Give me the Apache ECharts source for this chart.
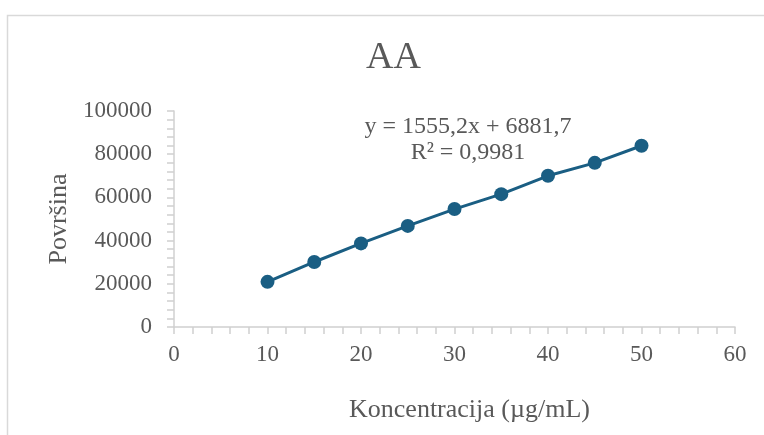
<!DOCTYPE html>
<html>
<head>
<meta charset="utf-8">
<script src="https://cdn.jsdelivr.net/npm/echarts@6/dist/echarts.min.js"></script>
<style>html,body{margin:0;padding:0;background:#fff}#c{width:764px;height:435px}</style>
</head>
<body>
<div id="c"></div>
<script>
var concentrations = [10, 15, 20, 25, 30, 35, 40, 45, 50];
var areas = [20900, 30100, 38700, 46800, 54600, 61500, 70000, 76000, 83900];
var xTicks = [0, 10, 20, 30, 40, 50, 60];
var yTicks = [0, 20000, 40000, 60000, 80000, 100000];
var titleText = 'AA';
var xName = 'Koncentracija (µg/mL)';
var yName = 'Površina';
var equationLines = ['y = 1555,2x + 6881,7', 'R² = 0,9981'];

var FONT = '"Liberation Serif", "Times New Roman", serif';
var TXT = '#595959';
var chart = echarts.init(document.getElementById('c'));
chart.setOption({
  backgroundColor: '#ffffff',
  animation: false,
  title: {
    text: titleText, left: 361, top: 34,
    textStyle: {fontFamily: FONT, fontSize: 38, fontWeight: 'normal', color: TXT}
  },
  grid: {left: 174, right: 29, top: 111, bottom: 108, containLabel: false},
  xAxis: {
    type: 'value', min: xTicks[0], max: xTicks[xTicks.length - 1], interval: 10,
    name: xName, nameLocation: 'middle', nameGap: 70,
    nameTextStyle: {fontFamily: FONT, fontSize: 26, color: TXT, padding: [0, 0, 0, 30]},
    axisLine: {show: true, onZero: false, lineStyle: {color: '#d0d0d0', width: 1.5}},
    axisTick: {show: true, length: 7, lineStyle: {color: '#d0d0d0', width: 1.5}},
    minorTick: {show: true, splitNumber: 5, length: 7, lineStyle: {color: '#d0d0d0', width: 1.5}},
    axisLabel: {fontFamily: FONT, fontSize: 23, color: TXT, margin: 16,
                formatter: function (v) { return String(v); }},
    splitLine: {show: false}
  },
  yAxis: {
    type: 'value', min: yTicks[0], max: yTicks[yTicks.length - 1], interval: 20000,
    name: yName, nameLocation: 'middle', nameGap: 102, nameRotate: 90,
    nameTextStyle: {fontFamily: FONT, fontSize: 26, color: TXT},
    axisLine: {show: true, lineStyle: {color: '#d0d0d0', width: 1.5}},
    axisTick: {show: true, length: 7, lineStyle: {color: '#d0d0d0', width: 1.5}},
    minorTick: {show: true, splitNumber: 5, length: 7, lineStyle: {color: '#d0d0d0', width: 1.5}},
    axisLabel: {fontFamily: FONT, fontSize: 23, color: TXT, margin: 22,
                formatter: function (v) { return String(v); }},
    splitLine: {show: false}
  },
  graphic: [
    {type: 'rect', silent: true, z: -10,
     shape: {x: 7.5, y: 15.5, width: 800, height: 500},
     style: {fill: 'none', stroke: '#d9d9d9', lineWidth: 1.5}},
    {type: 'text', x: 468, y: 114, silent: true,
     style: {text: equationLines.join('\n'), fontFamily: FONT, fontSize: 24, fill: TXT,
              align: 'center', lineHeight: 26}}
  ],
  series: [{
    type: 'line',
    data: concentrations.map(function (c, i) { return [c, areas[i]]; }),
    symbol: 'circle', symbolSize: 14,
    lineStyle: {color: '#1a5e83', width: 3},
    itemStyle: {color: '#1a5e83'}
  }]
});
</script>
</body>
</html>
